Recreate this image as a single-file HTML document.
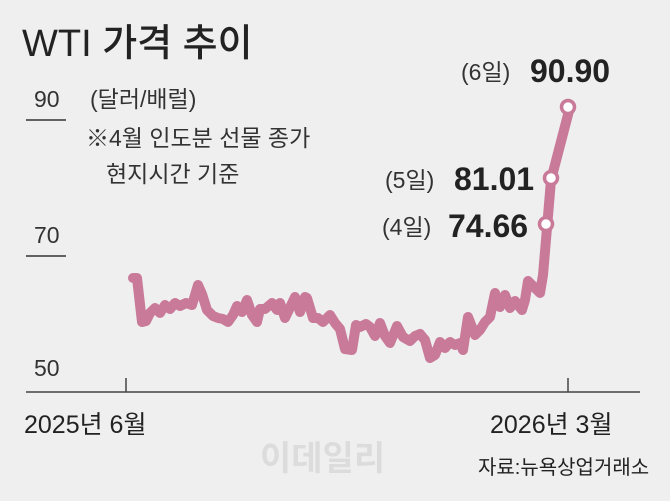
<!DOCTYPE html>
<html><head><meta charset="utf-8"><style>
html,body{margin:0;padding:0;background:#efefef;}
body{width:670px;height:496px;overflow:hidden;}
text{font-family:"Liberation Sans","Noto Sans CJK KR",sans-serif;}
</style></head><body>
<svg width="670" height="496" viewBox="0 0 670 496">
<rect width="670" height="496" fill="#efefef"/>
<text x="22" y="56" font-size="38" fill="#222" font-weight="500">WTI 가격 추이</text>
<text x="34" y="107" font-size="23" fill="#333">90</text>
<line x1="26" y1="120" x2="66" y2="120" stroke="#333" stroke-width="1.5"/>
<text x="90" y="107" font-size="23" fill="#333">(달러/배럴)</text>
<text x="86" y="146" font-size="23" fill="#333">※4월 인도분 선물 종가</text>
<text x="106" y="182" font-size="23" fill="#333">현지시간 기준</text>
<text x="34" y="243" font-size="23" fill="#333">70</text>
<line x1="26" y1="256" x2="66" y2="256" stroke="#333" stroke-width="1.5"/>
<text x="34" y="376" font-size="23" fill="#333">50</text>
<line x1="26" y1="392" x2="640" y2="392" stroke="#444" stroke-width="1.5"/>
<line x1="126" y1="378" x2="126" y2="392" stroke="#444" stroke-width="1.5"/>
<line x1="568" y1="378" x2="568" y2="392" stroke="#444" stroke-width="1.5"/>
<text x="24" y="433" font-size="25" fill="#222">2025년 6월</text>
<text x="490" y="433" font-size="25" fill="#222">2026년 3월</text>
<text x="260" y="470" font-size="34" fill="#dcdcdc" font-weight="bold">이데일리</text>
<text x="478" y="474" font-size="20" fill="#222">자료:뉴욕상업거래소</text>
<polyline fill="none" stroke="#c97a99" stroke-width="10" stroke-linejoin="round" stroke-linecap="round" points="133,278 137,278 142,322 146,321 150,313 155,308 160,313 165,305 170,309 175,303 180,306 186,303 192,305 198,285 202,294 207,310 213,316 218,318 223,319 228,322 233,315 237,306 242,312 247,300 252,315 257,322 260,309 265,309 272,303 277,310 280,303 285,318 295,297 300,312 305,297 307,298 313,318 318,318 323,322 330,315 335,323 340,329 345,349 352,350 356,325 360,327 366,324 370,327 375,336 380,323 385,336 390,343 397,326 403,337 410,341 415,336 420,334 425,340 430,358 435,355 440,342 445,348 450,342 455,345 460,343 463,350 468,317 470,322 475,335 480,330 485,322 490,317 495,293 500,307 505,295 510,308 515,301 522,310 525,300 528,281 535,288 540,293 543,275 547,228 551,180 570,107"/>
<circle cx="546" cy="224" r="6.5" fill="#fff" stroke="#c97a99" stroke-width="3.5"/>
<circle cx="551" cy="178" r="6.5" fill="#fff" stroke="#c97a99" stroke-width="3.5"/>
<circle cx="568" cy="107" r="6.5" fill="#fff" stroke="#c97a99" stroke-width="3.5"/>
<text x="461" y="80" font-size="23" fill="#333">(6일)</text>
<text x="530" y="82" font-size="32" fill="#222" font-weight="bold">90.90</text>
<text x="385" y="188" font-size="23" fill="#333">(5일)</text>
<text x="454" y="190" font-size="32" fill="#222" font-weight="bold">81.01</text>
<text x="382" y="235" font-size="23" fill="#333">(4일)</text>
<text x="448" y="237" font-size="32" fill="#222" font-weight="bold">74.66</text>
</svg>
</body></html>
